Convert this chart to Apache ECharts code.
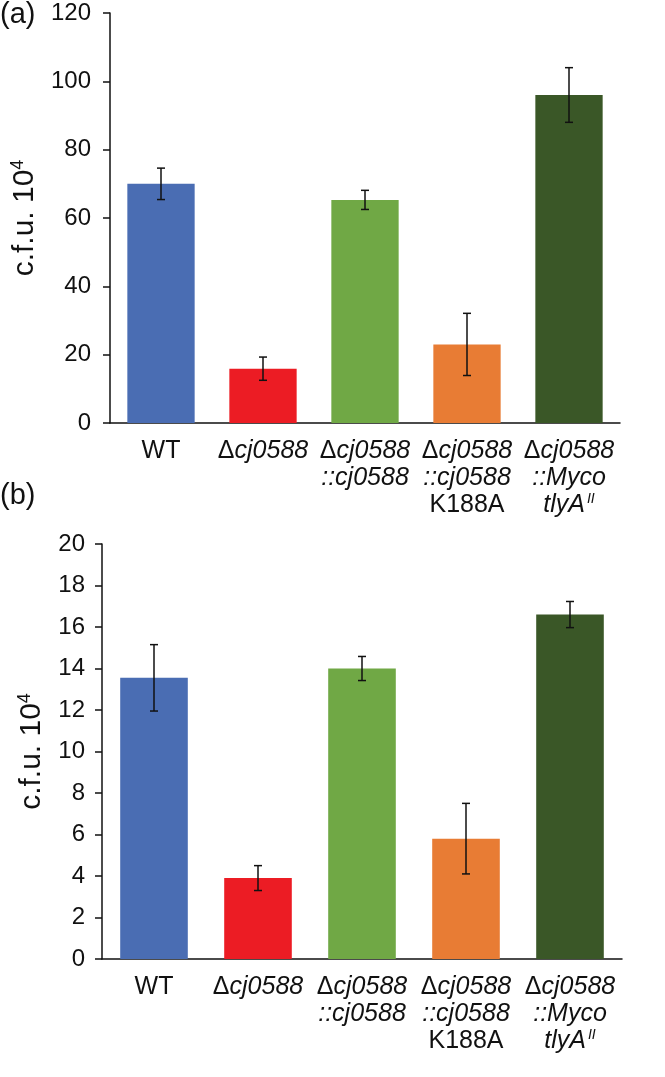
<!DOCTYPE html>
<html>
<head>
<meta charset="utf-8">
<script src="https://cdn.jsdelivr.net/npm/echarts@6/dist/echarts.min.js"></script>
<style>html,body{margin:0;padding:0;background:#fff}#c{width:665px;height:1077px}</style>
</head>
<body>
<div id="c"></div>
<script>
// ---- data ----
var categories = [
  "{n|WT}",
  "{n|Δ}{i|cj0588}",
  "{n|Δ}{i|cj0588}\n{i|::cj0588}",
  "{n|Δ}{i|cj0588}\n{i|::cj0588}\n{n|K188A}",
  "{n|Δ}{i|cj0588}\n{i|::Myco}\n{i|tlyA}{sup|II}"
];
var barColors = ["#4A6DB3", "#EC1C24", "#70A845", "#E87C34", "#3A5727"];
var valuesA = [70, 15.9, 65.3, 23, 96];
var errorsA = [4.6, 3.4, 2.8, 9.1, 8.0];
var valuesB = [13.55, 3.9, 14.0, 5.8, 16.6];
var errorsB = [1.6, 0.6, 0.58, 1.7, 0.63];
var yTicksA = {min: 0, max: 120, interval: 20};
var yTicksB = {min: 0, max: 20, interval: 2};
var yTitle = "{a|c.f.u. 10}{s|4}";
var panelLabels = ["(a)", "(b)"];

// ---- chart ----
var FONT = "Liberation Sans, Arial, sans-serif";
var richX = {
  n: {fontFamily: FONT, fontSize: 25, color: "#111", lineHeight: 27},
  i: {fontFamily: FONT, fontSize: 25, fontStyle: "italic", color: "#111", lineHeight: 27},
  sup: {fontFamily: FONT, fontSize: 14, fontStyle: "italic", color: "#111", lineHeight: 27, verticalAlign: "top", padding: [0, 0, 0, 2]}
};
var richY = {
  a: {fontFamily: FONT, fontSize: 30, color: "#111", lineHeight: 32},
  s: {fontFamily: FONT, fontSize: 18, color: "#111", lineHeight: 32, verticalAlign: "top"}
};
function xAxisCfg(gi) {
  return {
    type: "category", gridIndex: gi, data: categories,
    axisLine: {show: true, lineStyle: {color: "#111", width: 1.5}},
    axisTick: {show: false},
    axisLabel: {interval: 0, margin: 15, color: "#111", rich: richX, formatter: function (v) { return v; }}
  };
}
function yAxisCfg(gi, t, gap, lm) {
  return {
    type: "value", gridIndex: gi, min: t.min, max: t.max, interval: t.interval,
    name: yTitle, nameLocation: "middle", nameGap: gap, nameRotate: 90,
    nameTextStyle: {rich: richY},
    axisLine: {show: true, lineStyle: {color: "#111", width: 1.5}},
    axisTick: {show: true, length: 7, lineStyle: {color: "#111", width: 1.5}},
    splitLine: {show: false},
    axisLabel: {color: "#111", fontFamily: FONT, fontSize: 24, margin: lm}
  };
}
function barData(vals) {
  return vals.map(function (v, i) { return {value: v, itemStyle: {color: barColors[i]}}; });
}
function errData(vals, errs) {
  return vals.map(function (v, i) { return [i, v - errs[i], v + errs[i]]; });
}
function errRender(params, api) {
  var x = api.value(0);
  var lo = api.coord([x, api.value(1)]);
  var hi = api.coord([x, api.value(2)]);
  var hw = 4;
  var st = {stroke: "#111", lineWidth: 1.5};
  return {
    type: "group",
    children: [
      {type: "line", shape: {x1: lo[0], y1: lo[1], x2: hi[0], y2: hi[1]}, style: st},
      {type: "line", shape: {x1: lo[0] - hw, y1: lo[1], x2: lo[0] + hw, y2: lo[1]}, style: st},
      {type: "line", shape: {x1: hi[0] - hw, y1: hi[1], x2: hi[0] + hw, y2: hi[1]}, style: st}
    ]
  };
}
var chart = echarts.init(document.getElementById("c"), null, {renderer: "canvas"});
chart.setOption({
  animation: false,
  backgroundColor: "#fff",
  grid: [
    {left: 110, top: 13, width: 510, height: 410, containLabel: false, outerBoundsMode: "none"},
    {left: 102, top: 544, width: 520, height: 415, containLabel: false, outerBoundsMode: "none"}
  ],
  xAxis: [xAxisCfg(0), xAxisCfg(1)],
  yAxis: [yAxisCfg(0, yTicksA, 58, 19), yAxisCfg(1, yTicksB, 54, 17)],
  graphic: [
    {type: "text", left: 0, top: 0, style: {text: panelLabels[0], font: "29px " + FONT, fill: "#111"}},
    {type: "text", left: 0, top: 481, style: {text: panelLabels[1], font: "29px " + FONT, fill: "#111"}}
  ],
  series: [
    {type: "bar", xAxisIndex: 0, yAxisIndex: 0, data: barData(valuesA), barWidth: "66%"},
    {type: "custom", xAxisIndex: 0, yAxisIndex: 0, data: errData(valuesA, errorsA), renderItem: errRender, z: 5},
    {type: "bar", xAxisIndex: 1, yAxisIndex: 1, data: barData(valuesB), barWidth: "65%"},
    {type: "custom", xAxisIndex: 1, yAxisIndex: 1, data: errData(valuesB, errorsB), renderItem: errRender, z: 5}
  ]
});
</script>
</body>
</html>
